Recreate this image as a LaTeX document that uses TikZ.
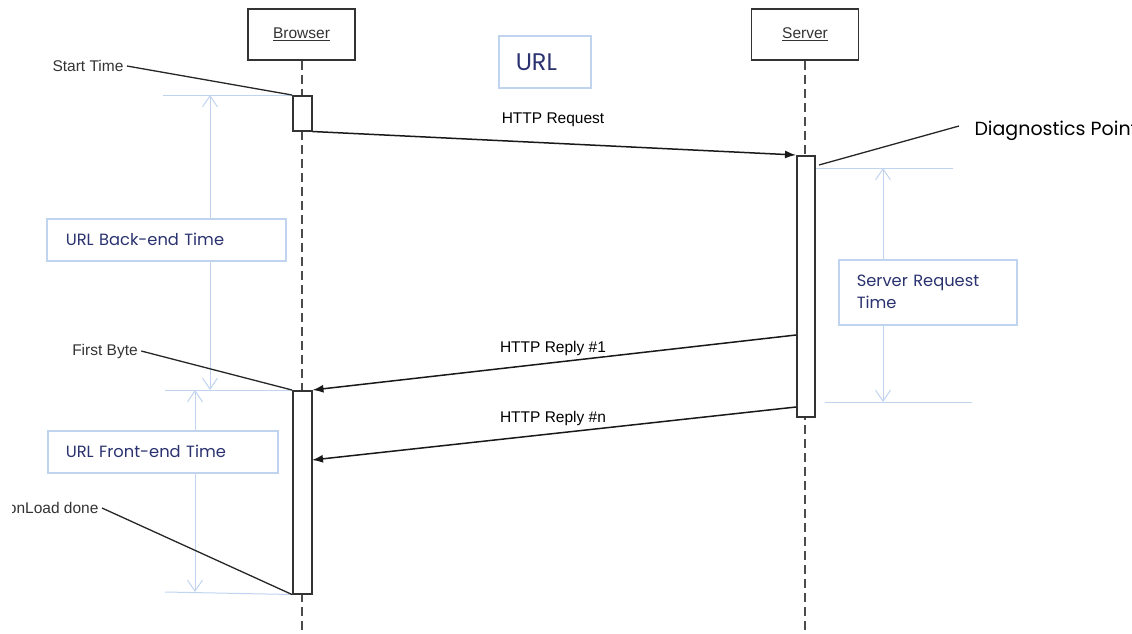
\documentclass[tikz,border=0pt]{standalone}
\usepackage{fontspec}
\setmainfont{Liberation Sans}
\newfontfamily\geofont{Poppins}
\usetikzlibrary{arrows.meta,calc}
\tikzset{>=latex}
\definecolor{navytext}{RGB}{42,50,112}
\definecolor{paleblue}{RGB}{192,212,240}
\definecolor{lifegray}{RGB}{75,75,75}
\tikzstyle{actor}=[draw=black!80,line width=1.5,fill=white,minimum width=107,minimum height=51,
                   inner sep=0,font=\fontsize{15.5}{18}\selectfont,text=black!80]
\tikzstyle{lifeline}=[lifegray,line width=2,dash pattern=on 9 off 5]
\tikzstyle{activation}=[draw=black!80,line width=1.5,fill=white,inner sep=0,anchor=north west,minimum width=19]
\tikzstyle{msg}=[-{Latex[length=11,width=8]},line width=1.5,black!90]
\tikzstyle{note}=[font=\fontsize{15.5}{18}\selectfont,text=black!80]
\tikzstyle{pointer}=[black!85,line width=1.3]
\tikzstyle{span}=[paleblue,line width=1]
\tikzstyle{spanarrow}=[span,{Straight Barb[length=11,width=15]}-{Straight Barb[length=11,width=15]}]
\tikzstyle{spanbox}=[draw=paleblue,line width=1.5,fill=white,text=navytext,anchor=north west,align=left,
                     inner ysep=0,font=\geofont\fontsize{16.3}{22}\selectfont]

\begin{document}
\begin{tikzpicture}[x=1pt,y=-1pt]

  \useasboundingbox (0,0) rectangle (1132,633);
  \clip (0,0) rectangle (1132,633); % picture is cut at the edges

  % actors and lifelines
  \node[actor] (browser) at (301.5,34.5) {\underline{Browser}};
  \node[actor] (server) at (805,34.5) {\underline{Server}};
  \draw[lifeline] (browser.south) -- (browser.south |- 0,633);
  \draw[lifeline] (server.south) -- (server.south |- 0,633);

  % activations
  \node[activation,minimum height=35] (bact1) at (292,95) {};
  \node[activation,minimum height=203] (bact2) at (292,390) {};
  \node[activation,minimum width=18,minimum height=261] (sact) at (796,155) {};

  \node[spanbox,inner xsep=17,text width=58,minimum height=52,
        font=\geofont\fontsize{24}{26}\selectfont] (url) at (498,35) {URL};

  % messages
  \coordinate (rep1start) at (796,335);
  \coordinate (repnstart) at (796,407);
  \coordinate (repnend) at (312,460);
  \draw[msg] (bact1.south east) -- (sact.north west);
  \draw[msg] (rep1start) -- (bact2.north east);
  \draw[msg] (repnstart) -- (repnend);
  \node[note,text=black] (req) at (553,120) {HTTP Request};
  \node[note,text=black,fill=white,inner sep=1] (rep1) at (553,348) {HTTP Reply \#1};
  \node[note,text=black,fill=white,inner sep=1] (repn) at (553,418) {HTTP Reply \#n};

  % time spans
  \draw[span] (163,95) -- (bact1.north west);
  \draw[span] (165,390) -- (bact2.north west);
  \draw[span] (165,592) -- (bact2.south west);
  \draw[spanarrow] (210,95) -- (210,390);
  \draw[spanarrow] (195,390) -- (195,592);
  \draw[span] (sact.north east |- 0,168) -- (953,168);
  \draw[span] (825,402) -- (972,402);
  \draw[spanarrow] (883,168) -- (883,402);
  \node[spanbox,inner xsep=19,text width=201,minimum height=42] (backend) at (46,218) {URL Back-end Time};
  \node[spanbox,inner xsep=18,text width=194,minimum height=42] (frontend) at (47,430) {URL Front-end Time};
  \node[spanbox,inner xsep=18,text width=142,minimum height=65] (srvtime) at (838,259) {Server Request\\Time};

  % pointers
  \node[note] (start) at (88,66) {Start Time};
  \node[note] (fbyte) at (105,351) {First Byte};
  \begin{scope}
    \clip (12.5,490) rectangle (130,525); % label is cut on its left
    \node[note,anchor=east] (onload) at (102,508) {onLoad done};
  \end{scope}
  \node[anchor=west,font=\geofont\fontsize{19}{22}\selectfont] (diag) at (971,131) {Diagnostics Point};
  \coordinate (diagtip) at (819,165);
  \draw[pointer] (diagtip) -- ($(diag.west)+(-12,-5)$);
  \draw[pointer] (start.east) -- (bact1.north west);
  \draw[pointer] (fbyte.east) -- (bact2.north west);
  \draw[pointer] (onload.east) -- (bact2.south west);

\end{tikzpicture}
\end{document}
